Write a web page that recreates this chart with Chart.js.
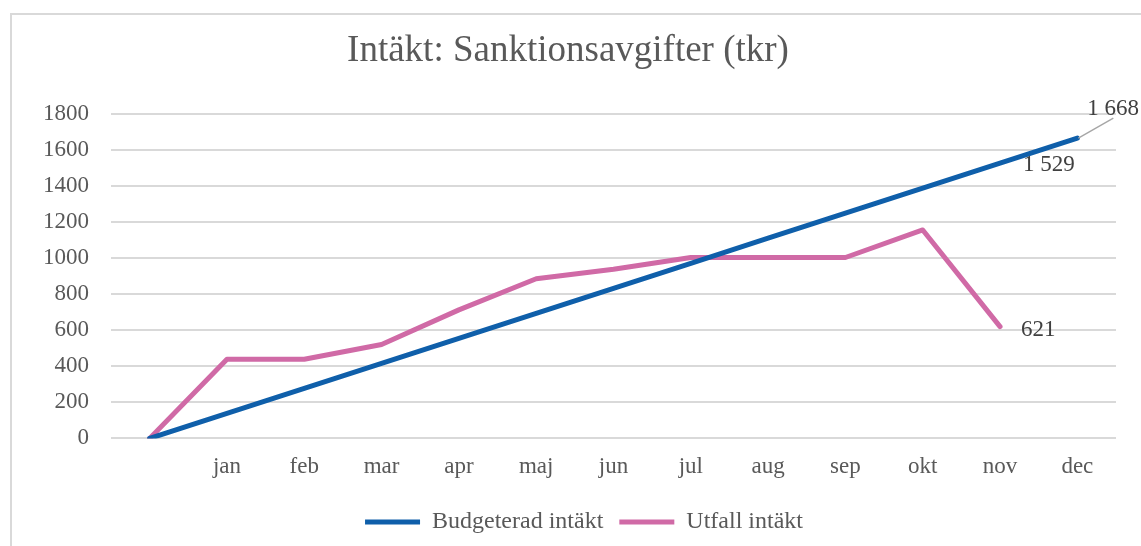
<!DOCTYPE html>
<html>
<head>
<meta charset="utf-8">
<script src="https://cdn.jsdelivr.net/npm/chart.js@4/dist/chart.umd.min.js"></script>
<style>
  html, body { margin: 0; padding: 0; background: #fff; overflow: hidden; }
  #wrap { position: relative; width: 1141px; height: 546px; }
  #ram { position: absolute; left: 10px; top: 13px; width: 1200px; height: 600px; border: 2px solid #d9d9d9; }
  #chartIntakt { position: absolute; left: 0; top: 0; }
</style>
</head>
<body>
<div id="wrap">
  <div id="ram"></div>
  <canvas id="chartIntakt" width="1141" height="546"></canvas>
</div>
<script>
// Data
const manader = ["", "jan", "feb", "mar", "apr", "maj", "jun", "jul", "aug", "sep", "okt", "nov", "dec"];
const budget = [0, 139, 278, 417, 556, 695, 834, 973, 1112, 1251, 1390, 1529, 1668];
const utfall = [0, 440, 440, 522, 714, 887, 940, 1005, 1005, 1005, 1158, 621, null];
const yTicks = [0, 200, 400, 600, 800, 1000, 1200, 1400, 1600, 1800];

const serif = '"Liberation Serif", "Times New Roman", serif';
const gra = '#595959';
const bla = '#0F5FAA';
const rosa = '#D06AA6';

// Formatera med mellanslag som tusentalsavgränsare
const fmt = (v) => String(v).replace(/\B(?=(\d{3})+(?!\d))/g, ' ');

// Etiketter för vissa punkter
const etiketter = [
  { ds: 0, i: 12, dx: 10, dy: -29, leader: true },
  { ds: 0, i: 11, dx: 23, dy: 2 },
  { ds: 1, i: 11, dx: 21, dy: 3 }
];

const etikettPlugin = {
  id: 'etiketter',
  afterLayout(chart) {
    // flytta förklaringen lite åt höger
    chart.legend.left += 16;
    chart.legend.right += 16;
  },
  afterDatasetsDraw(chart) {
    const ctx = chart.ctx;
    ctx.save();
    ctx.font = '23px ' + serif;
    ctx.fillStyle = '#404040';
    ctx.textAlign = 'left';
    ctx.textBaseline = 'middle';
    etiketter.forEach(e => {
      const p = chart.getDatasetMeta(e.ds).data[e.i];
      const v = chart.data.datasets[e.ds].data[e.i];
      if (e.leader) {
        ctx.strokeStyle = '#a6a6a6';
        ctx.lineWidth = 1.5;
        ctx.beginPath();
        ctx.moveTo(p.x + 1, p.y);
        ctx.lineTo(p.x + 36, p.y - 20);
        ctx.stroke();
      }
      ctx.fillText(fmt(v), p.x + e.dx, p.y + e.dy);
    });
    ctx.restore();
  }
};

const ctx = document.getElementById('chartIntakt').getContext('2d');
const chart = new Chart(ctx, {
  type: 'line',
  data: {
    labels: manader,
    datasets: [
      {
        label: 'Budgeterad intäkt',
        data: budget,
        borderColor: bla,
        backgroundColor: bla,
        borderWidth: 5,
        borderCapStyle: 'round',
        borderJoinStyle: 'round',
        pointRadius: 0,
        tension: 0
      },
      {
        label: 'Utfall intäkt',
        data: utfall,
        borderColor: rosa,
        backgroundColor: rosa,
        borderWidth: 5,
        borderCapStyle: 'round',
        borderJoinStyle: 'round',
        pointRadius: 0,
        tension: 0
      }
    ]
  },
  options: {
    responsive: false,
    animation: false,
    layout: { padding: { left: 20, right: 25, top: 0, bottom: 2 } },
    plugins: {
      title: {
        display: true,
        text: 'Intäkt: Sanktionsavgifter (tkr)',
        color: gra,
        font: { family: serif, size: 37, weight: 'normal' },
        padding: { top: 29, bottom: 41 }
      },
      legend: {
        position: 'bottom',
        labels: {
          usePointStyle: true,
          pointStyle: 'line',
          pointStyleWidth: 55,
          boxHeight: 5,
          color: gra,
          font: { family: serif, size: 24 },
          padding: 16
        }
      },
      tooltip: { enabled: false }
    },
    scales: {
      x: {
        offset: true,
        afterFit: (scale) => { scale.height -= 2; },
        grid: { display: false, drawTicks: false },
        border: { display: false },
        ticks: { color: gra, font: { family: serif, size: 23 }, padding: 15, maxRotation: 0, autoSkip: false }
      },
      y: {
        min: 0,
        max: 1800,
        afterFit: (scale) => { scale.width = 91; },
        afterBuildTicks: (scale) => { scale.ticks = yTicks.map(v => ({ value: v })); },
        grid: { color: '#d9d9d9', lineWidth: 2, drawTicks: false },
        border: { display: false },
        ticks: { color: gra, font: { family: serif, size: 23 }, padding: 22, callback: (v) => String(v) }
      }
    }
  },
  plugins: [etikettPlugin]
});
</script>
</body>
</html>
